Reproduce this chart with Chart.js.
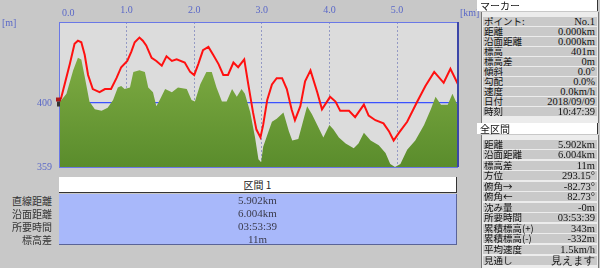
<!DOCTYPE html>
<html>
<head>
<meta charset="utf-8">
<script src="https://cdn.jsdelivr.net/npm/chart.js@4/dist/chart.umd.min.js"></script>
<style>
  html, body { margin: 0; padding: 0; }
  body {
    width: 600px; height: 268px; position: relative; overflow: hidden;
    background: #c8c8c8; font-family: "Noto Sans CJK JP", sans-serif;
  }
  #plotWrap { position: absolute; left: 0; top: 0; width: 480px; height: 180px; }
  .unit { position: absolute; font: 10px "Liberation Serif", serif; color: #5a68c8; }
  #sectionBar {
    position: absolute; left: 59px; top: 177px; width: 397px; height: 15px;
    background: #fff; border-right: 1px solid #333; border-bottom: 1px solid #333;
    font-size: 10px; line-height: 15px; text-align: center; color: #222;
  }
  #sectionTable {
    position: absolute; left: 59px; top: 194px; width: 397px; height: 50px;
    background: #a8b8fa; border-right: 1px solid #5a6498; border-bottom: 1px solid #5a6498;
  }
  .rowLabel {
    position: absolute; right: 548px; font-size: 10px; line-height: 13px; color: #333;
    white-space: nowrap;
  }
  .rowValue {
    position: absolute; left: 59px; width: 397px; text-align: center;
    font: 11px "Liberation Serif", serif; line-height: 13px; color: #3a3a4a;
  }
  .hdr {
    position: absolute; left: 477px; width: 121px; height: 11px; background: #fff;
    border-right: 1px solid #333; font-size: 10px; line-height: 11px; padding-left: 3px;
    box-sizing: border-box; color: #111;
  }
  .box {
    position: absolute; left: 481px; width: 116px; background: #ececec;
    border-left: 1px solid #777; border-right: 1px solid #777;
  }
  .prow {
    position: absolute; left: 1px; right: 1px; height: 9px; background: #c9c9c9;
    font-size: 9.5px; line-height: 9px; color: #111;
  }
  .prow span.l { position: absolute; left: 1px; white-space: nowrap; }
  .prow span.v { position: absolute; right: 2px; font-family: "Liberation Serif", serif; font-size: 10.5px; white-space: nowrap; }
</style>
</head>
<body>
<div id="plotWrap"><canvas id="profile"></canvas></div>
<div class="unit" style="left:2px;top:17px;">[m]</div>
<div class="unit" style="left:460px;top:7px;">[km]</div>
<div class="unit" style="left:62px;top:7px;">0.0</div>

<div id="sectionBar">区間 1</div>
<div id="sectionTable"></div>

<div class="hdr" style="top:0;">マーカー</div>
<div class="box" id="markerBox" style="top:12px;height:111px;"></div>
<div class="hdr" style="top:123px;">全区間</div>
<div class="box" id="totalBox" style="top:135px;height:133px;"></div>

<script>
// Elevation profile: GPS track (red) over terrain (green), distance in km.
const xTicks = [0, 1, 2, 3, 4, 5];
const yTicks = [359, 400];

const gpsKm = [0, 0.03, 0.06, 0.16, 0.23, 0.28, 0.33, 0.38, 0.43, 0.50, 0.60, 0.68, 0.77, 0.85, 0.92,
  1.01, 1.07, 1.12, 1.19, 1.24, 1.29, 1.37, 1.44, 1.52, 1.59, 1.67, 1.74, 1.86, 1.94, 2.00, 2.06, 2.13,
  2.21, 2.28, 2.36, 2.43, 2.50, 2.58, 2.65, 2.74, 2.80, 2.87, 2.92, 2.98, 3.02, 3.08, 3.15, 3.22, 3.30,
  3.37, 3.44, 3.49, 3.57, 3.64, 3.72, 3.82, 3.89, 4.01, 4.09, 4.16, 4.29, 4.38, 4.51, 4.58, 4.68, 4.80,
  4.88, 4.95, 5.03, 5.15, 5.30, 5.42, 5.55, 5.69, 5.79, 5.902];
const gpsElev = [401, 403, 408, 425, 438, 440, 439, 431, 418, 409, 407, 409, 409, 416, 423,
  427, 433, 439, 442, 440, 437, 429, 427, 424, 430, 427, 428, 426, 420, 418, 425, 434,
  436, 431, 425, 418, 418, 426, 423, 428, 412, 394, 383, 378, 386, 402, 412, 416, 416,
  409, 396, 389, 398, 414, 421, 407, 396, 404, 401, 395, 395, 391, 399, 392, 389, 387,
  382, 376, 381, 388, 401, 411, 420, 413, 422, 412];

const demKm = [0, 0.11, 0.21, 0.28, 0.33, 0.38, 0.45, 0.53, 0.63, 0.72, 0.80, 0.87, 0.92, 0.97, 1.05,
  1.10, 1.19, 1.27, 1.32, 1.39, 1.44, 1.49, 1.57, 1.67, 1.76, 1.89, 1.96, 2.01, 2.09, 2.18, 2.26, 2.33,
  2.41, 2.48, 2.56, 2.63, 2.70, 2.75, 2.83, 2.90, 2.95, 2.99, 3.02, 3.10, 3.15, 3.22, 3.32, 3.40, 3.45,
  3.54, 3.62, 3.67, 3.74, 3.82, 3.91, 4.00, 4.06, 4.14, 4.24, 4.36, 4.43, 4.51, 4.61, 4.73, 4.83, 4.90,
  4.97, 5.05, 5.15, 5.27, 5.40, 5.50, 5.57, 5.65, 5.75, 5.82, 5.902];
const demElev = [400, 406, 421, 429, 428, 417, 401, 396, 395, 397, 402, 410, 411, 409, 410,
  420, 421, 420, 410, 407, 398, 402, 409, 407, 410, 409, 402, 401, 412, 420, 420, 410,
  401, 401, 409, 404, 409, 406, 394, 378, 364, 362, 372, 382, 388, 390, 394, 382, 376,
  377, 390, 398, 393, 386, 378, 386, 383, 378, 374, 371, 374, 381, 376, 373, 368, 361,
  359, 361, 370, 376, 386, 396, 404, 399, 399, 406, 398];

const sectionLabels = ['直線距離', '沿面距離', '所要時間', '標高差'];
const sectionValues = ['5.902km', '6.004km', '03:53:39', '11m'];

const markerLabels = ['ポイント:', '距離', '沿面距離', '標高', '標高差', '傾斜', '勾配', '速度', '日付', '時刻'];
const markerValues = ['No.1', '0.000km', '0.000km', '401m', '0m', '0.0°', '0.0%', '0.0km/h', '2018/09/09', '10:47:39'];
const totalLabels = ['距離', '沿面距離', '標高差', '方位', '俯角→', '俯角←', '沈み量', '所要時間',
  '累積標高(+)', '累積標高(-)', '平均速度', '見通し'];
const totalValues = ['5.902km', '6.004km', '11m', '293.15°', '-82.73°', '82.73°', '-0m', '03:53:39',
  '343m', '-332m', '1.5km/h', '見えます'];

const TICK_COLOR = '#5a68c8';
const FRAME_BLUE = '#6a78e6';

function zip(xs, ys) {
  return xs.map((x, i) => ({ x, y: ys[i] }));
}

// Grey plot background, blue frame, start-point marker.
const plotFrame = {
  id: 'plotFrame',
  beforeDraw(chart) {
    const { ctx, chartArea: a } = chart;
    ctx.save();
    ctx.fillStyle = '#dcdcdc';
    ctx.fillRect(a.left, a.top, a.right - a.left, a.bottom - a.top);
    ctx.restore();
  },
  afterDraw(chart) {
    const { ctx, chartArea: a, scales } = chart;
    ctx.save();
    ctx.strokeStyle = FRAME_BLUE;
    ctx.lineWidth = 1;
    ctx.strokeRect(a.left + 0.5, a.top + 0.5, a.right - a.left - 1, a.bottom - a.top);
    ctx.strokeStyle = '#3c46a8';
    ctx.lineWidth = 2;
    ctx.beginPath();
    ctx.moveTo(a.right, a.top);
    ctx.lineTo(a.right, a.bottom);
    ctx.stroke();
    // little hiker icon at the start point
    const px = scales.x.getPixelForValue(gpsKm[0]);
    const py = scales.y.getPixelForValue(gpsElev[0]);
    ctx.fillStyle = '#b01818';
    ctx.fillRect(px - 3, py - 4, 5, 4);
    ctx.fillStyle = '#333';
    ctx.fillRect(px - 2, py, 3, 5);
    ctx.restore();
  },
};

const ctx = document.getElementById('profile').getContext('2d');
new Chart(ctx, {
  type: 'line',
  data: {
    datasets: [
      {
        label: 'GPS',
        data: zip(gpsKm, gpsElev),
        borderColor: '#ff1010',
        borderWidth: 2,
        pointRadius: 0,
        fill: false,
        tension: 0,
        order: 1,
      },
      {
        label: 'Terrain',
        data: zip(demKm, demElev),
        borderWidth: 0,
        borderColor: 'rgba(0,0,0,0)',
        pointRadius: 0,
        fill: 'start',
        tension: 0,
        order: 2,
        backgroundColor(c) {
          const area = c.chart.chartArea;
          if (!area) return '#6c9a36';
          const g = c.chart.ctx.createLinearGradient(0, area.top + 30, 0, area.bottom);
          g.addColorStop(0, '#80ad44');
          g.addColorStop(1, '#5a8c2c');
          return g;
        },
      },
    ],
  },
  options: {
    responsive: true,
    maintainAspectRatio: false,
    animation: false,
    layout: { padding: { left: 0, top: 0, right: 22, bottom: 6 } },
    scales: {
      x: {
        type: 'linear',
        position: 'top',
        min: 0,
        max: 5.902,
        z: 1,
        afterBuildTicks: (s) => { s.ticks = xTicks.map((v) => ({ value: v })); },
        afterFit: (s) => { s.height = 22; },
        ticks: {
          color: TICK_COLOR,
          font: { family: 'Liberation Serif', size: 10 },
          padding: 6,
          maxRotation: 0,
          callback: (v) => (v === 0 ? '' : Number(v).toFixed(1)),
        },
        grid: {
          drawTicks: false,
          color: (c) => (c.tick && c.tick.value === 0 ? 'rgba(0,0,0,0)' : 'rgba(100,110,180,0.6)'),
          lineWidth: 1,
        },
        border: { display: false, dash: [2, 2] },
      },
      y: {
        min: 359,
        max: 452,
        z: 1,
        afterBuildTicks: (s) => { s.ticks = yTicks.map((v) => ({ value: v })); },
        afterFit: (s) => { s.width = 59; },
        ticks: {
          color: TICK_COLOR,
          font: { family: 'Liberation Serif', size: 10 },
          padding: 7,
        },
        grid: {
          drawTicks: false,
          color: (c) => (c.tick && c.tick.value === 400 ? '#3a52ff' : 'rgba(0,0,0,0)'),
          lineWidth: 1.2,
        },
        border: { display: false },
      },
    },
    plugins: {
      legend: { display: false },
      tooltip: { enabled: false },
    },
  },
  plugins: [plotFrame],
});

// Section summary under the plot
const rowTops = [194, 207, 220, 233];
sectionLabels.forEach((t, i) => {
  const el = document.createElement('div');
  el.className = 'rowLabel';
  el.style.top = rowTops[i] + 'px';
  el.textContent = t;
  document.body.appendChild(el);
  const v = document.createElement('div');
  v.className = 'rowValue';
  v.style.top = rowTops[i] + 'px';
  v.textContent = sectionValues[i];
  document.body.appendChild(v);
});

function fillBox(id, labels, values, firstTop, step) {
  const box = document.getElementById(id);
  labels.forEach((t, i) => {
    const r = document.createElement('div');
    r.className = 'prow';
    r.style.top = (firstTop + i * step) + 'px';
    r.innerHTML = '<span class="l"></span><span class="v"></span>';
    r.querySelector('.l').textContent = t;
    r.querySelector('.v').textContent = values[i];
    box.appendChild(r);
  });
}
fillBox('markerBox', markerLabels, markerValues, 4.5, 10.1);
fillBox('totalBox', totalLabels, totalValues, 4.5, 10.55);
</script>
</body>
</html>
